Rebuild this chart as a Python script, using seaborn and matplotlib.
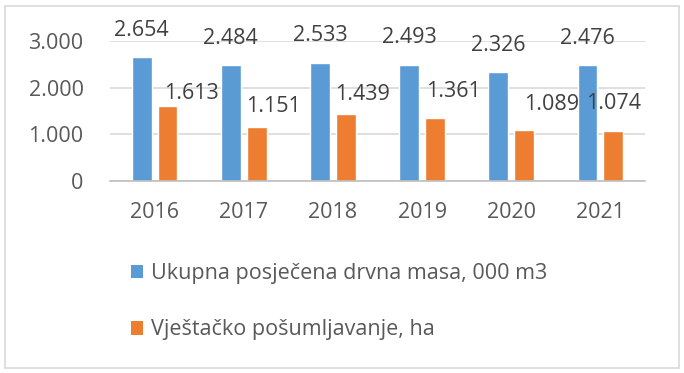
import pandas as pd
import matplotlib
matplotlib.use("Agg")
import matplotlib.pyplot as plt
from matplotlib.patches import Patch, Rectangle
import seaborn as sns

# podaci
godine = ["2016", "2017", "2018", "2019", "2020", "2021"]
drvna_masa = [2654, 2484, 2533, 2493, 2326, 2476]
posumljavanje = [1613, 1151, 1439, 1361, 1089, 1074]
serije = ["Ukupna posječena drvna masa, 000 m3", "Vještačko pošumljavanje, ha"]
y_ticks = [0, 1000, 2000, 3000]

# ručni pomaci natpisa (pikseli), kao u originalu
pomak_plavi = [(0, 27)] * 6
pomak_narandzasti = [(24, 12), (17, 21), (17, 19), (18, 26), (27, 26), (0, 27)]

boje = ["#5B9BD5", "#ED7D31"]
siva = "#595959"
fs = 15.5


def fmt(v):
    return f"{v:,}".replace(",", ".")


def main():
    df = pd.DataFrame({
        "godina": godine * 2,
        "vrijednost": drvna_masa + posumljavanje,
        "serija": [serije[0]] * len(godine) + [serije[1]] * len(godine),
    })

    sns.set_style("white")
    plt.rcParams["font.family"] = ["Open Sans", "DejaVu Sans"]

    fig = plt.figure(figsize=(6.84, 3.73), dpi=100)
    ax = fig.add_axes([0.1608, 0.5147, 0.7822, 0.3753])

    sns.barplot(data=df, x="godina", y="vrijednost", hue="serija",
                palette=boje, width=0.58, gap=0.23, saturation=1,
                legend=False, ax=ax)

    ax.set_ylim(0, 3000)
    ax.set_xlim(-0.5, len(godine) - 0.5)
    ax.set_yticks(y_ticks)
    ax.set_yticklabels([fmt(t) for t in y_ticks])
    ax.set_xlabel("")
    ax.set_ylabel("")
    ax.yaxis.grid(True, color="#D9D9D9", linewidth=1.2)
    ax.set_axisbelow(True)
    for s in ["top", "right", "left"]:
        ax.spines[s].set_visible(False)
    ax.spines["bottom"].set_color("#BFBFBF")
    ax.spines["bottom"].set_linewidth(1.2)
    ax.tick_params(axis="both", length=0, labelsize=fs, labelcolor=siva)
    ax.tick_params(axis="y", pad=19)
    ax.tick_params(axis="x", pad=15)

    # natpisi
    for cont, vals, pomaci in zip(ax.containers, [drvna_masa, posumljavanje],
                                  [pomak_plavi, pomak_narandzasti]):
        for bar, v, (dx, dy) in zip(cont, vals, pomaci):
            ax.annotate(fmt(v), (bar.get_x() + bar.get_width() / 2, bar.get_height()),
                        xytext=(dx, dy), textcoords="offset pixels",
                        ha="center", va="center", fontsize=fs,
                        color="#404040", annotation_clip=False)

    handles = [Patch(facecolor=c, edgecolor="none") for c in boje]
    fig.legend(handles, serije, loc="upper left", bbox_to_anchor=(0.1915, 0.295),
               frameon=False, fontsize=fs, labelcolor=siva,
               handlelength=0.58, handleheight=0.58, handletextpad=0.35,
               labelspacing=1.65, borderpad=0, borderaxespad=0)

    fig.patches.append(Rectangle((0.007, 0.013), 0.986, 0.972, transform=fig.transFigure,
                                 fill=False, edgecolor="#D9D9D9", linewidth=1.2))

    fig.savefig("out.png", dpi=100)


if __name__ == "__main__":
    main()
